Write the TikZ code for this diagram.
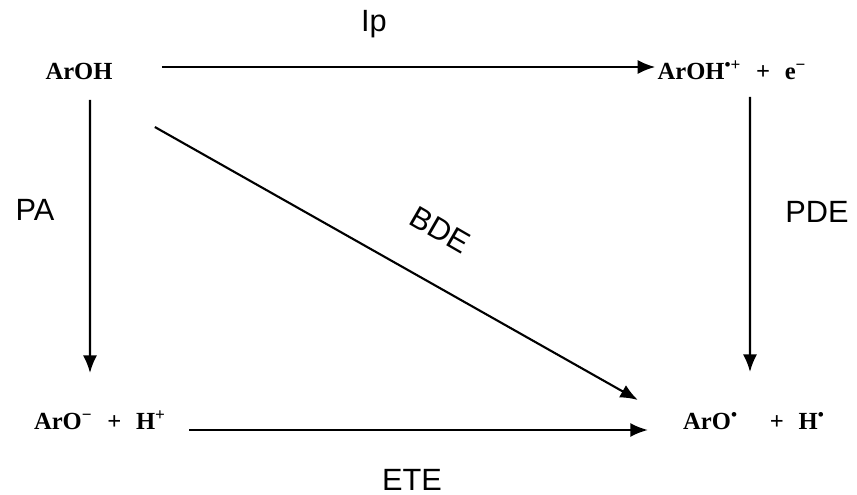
\documentclass[tikz,border=0pt]{standalone}
\usepackage{fontspec}
\newfontfamily\chemfont{Liberation Serif}
\newfontfamily\lblfont{Liberation Sans}
\usetikzlibrary{arrows.meta}

\begin{document}
\begin{tikzpicture}[>={Latex[length=10pt,width=8pt]},
    species/.style={inner sep=0pt, anchor=base, font=\chemfont\bfseries\fontsize{14}{16}\selectfont},
    energy/.style={inner sep=0pt, font=\lblfont\fontsize{17.5}{20}\selectfont},
    arr/.style={->, line width=1.2pt}]
    \useasboundingbox (0,0) rectangle (17.14,9.9);

    % species
    \node[species] (aroh) at (1.58,8.30) {ArOH};
    \node[species] (arohp) at (14.64,8.30) {ArOH\textsuperscript{•+}\hspace{0.6em}+\hspace{0.6em}e\textsuperscript{−}};
    \node[species] (aro) at (2.0,1.30) {ArO\textsuperscript{−}\hspace{0.6em}+\hspace{0.6em}H\textsuperscript{+}};
    \node[species] (arorad) at (15.08,1.30) {ArO\textsuperscript{•}\hspace{1.3em}+\hspace{0.6em}H\textsuperscript{•}};

    % quantities
    \node[energy] (ip) at (7.48,9.42) {Ip};
    \node[energy] (pa) at (0.70,5.70) {PA};
    \node[energy, rotate=-30] (bde) at (8.80,5.30) {BDE};
    \node[energy] (pde) at (16.34,5.66) {PDE};
    \node[energy] (ete) at (8.24,0.30) {ETE};

    \draw[arr] ([shift={(0.98,0.26)}]aroh.base east) -- ([shift={(-0.04,0.26)}]arohp.base west);
    \draw[arr] ([shift={(0.22,-0.40)}]aroh.base) -- ([shift={(-0.20,1.14)}]aro.base);
    \draw[arr] ([shift={(0.84,-0.94)}]aroh.base east) -- ([shift={(-0.90,0.60)}]arorad.base west);
    \draw[arr] ([shift={(0.36,-0.34)}]arohp.base) -- ([shift={(-0.08,1.16)}]arorad.base);
    \draw[arr] ([shift={(0.46,0)}]aro.base east) -- ([shift={(-0.70,0)}]arorad.base west);
\end{tikzpicture}
\end{document}
